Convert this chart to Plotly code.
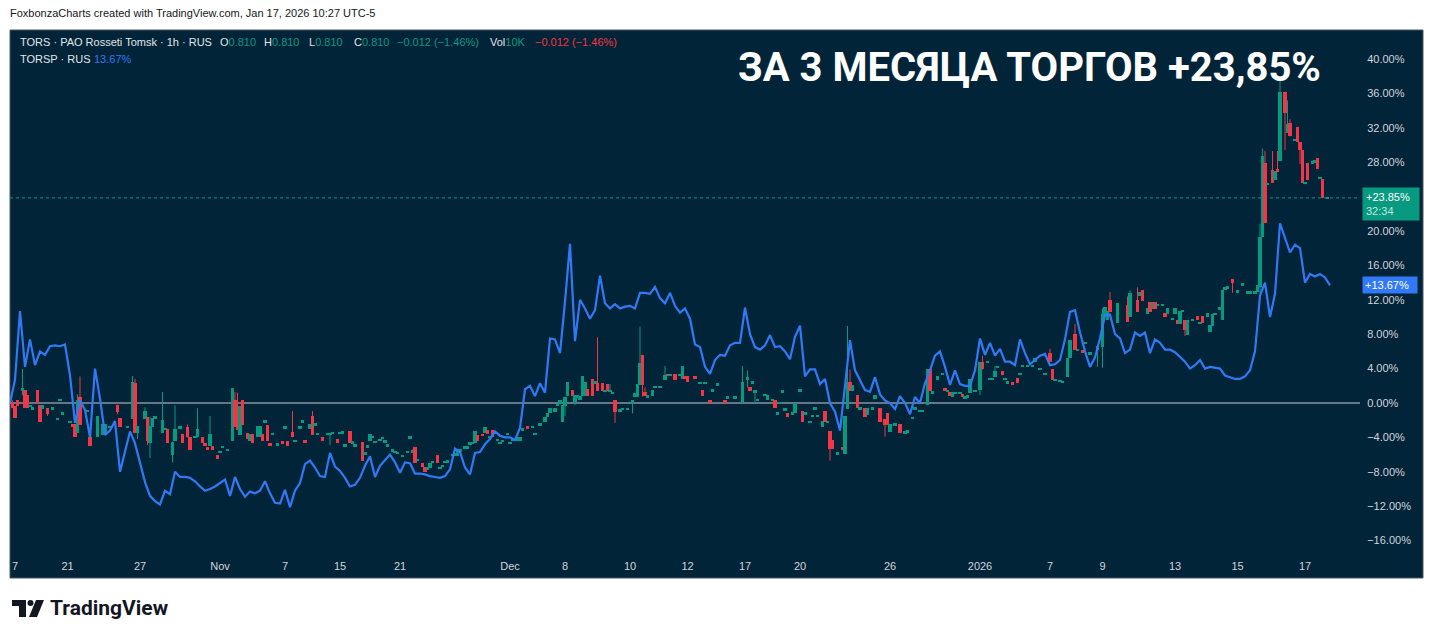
import plotly.graph_objects as go

# ---------------- data ----------------
# TORSP compare line (% change), sampled every 2 bar slots
line_vals = [
    0.0, 2.7, 10.7, 4.2, 7.4, 4.4, 6.0, 5.6, 6.6, 6.7,
    6.6, 6.8, 3.2, -2.3, 0.3, -0.8, -4.0, 4.0, 0.5, -3.7,
    -3.2, -2.1, -8.0, -5.5, -3.3, -4.7, -7.1, -9.2, -10.8, -11.4,
    -11.8, -10.2, -10.6, -8.0, -8.6, -8.6, -8.7, -9.1, -9.7, -10.2,
    -10.0, -9.7, -9.3, -8.9, -10.8, -8.6, -10.0, -10.9, -10.3, -10.5,
    -10.2, -9.1, -10.5, -11.6, -11.7, -10.1, -12.1, -10.2, -9.3, -7.1,
    -6.7, -7.5, -8.5, -8.6, -5.8, -7.4, -7.9, -8.7, -9.7, -9.5,
    -8.7, -7.3, -6.2, -8.6, -7.3, -6.6, -6.0, -6.9, -8.1, -6.9,
    -7.0, -8.2, -8.2, -8.3, -8.5, -8.6, -8.7, -8.5, -7.7, -5.3,
    -5.7, -7.5, -8.3, -5.8, -5.7, -4.8, -4.2, -3.3, -3.8, -4.0,
    -4.0, -4.3, -2.9, 1.6, 2.0, 0.8, 2.3, 1.2, 7.5, 7.4,
    5.8, 11.8, 18.5, 7.2, 12.0, 11.0, 9.8, 10.8, 14.8, 11.6,
    11.0, 11.5, 11.0, 11.2, 11.3, 11.0, 12.8, 12.8, 12.7, 13.5,
    12.2, 11.6, 12.8, 11.3, 10.5, 11.0, 9.8, 6.8, 6.5, 4.2,
    3.4, 5.0, 5.6, 5.5, 6.7, 7.0, 7.0, 11.1, 8.0, 6.5,
    6.2, 6.7, 7.9, 6.5, 6.6, 6.0, 5.1, 7.7, 9.0, 3.1,
    3.9, 3.9, 2.2, 2.8, 0.0, -1.0, -3.2, 2.0, 7.3, 3.8,
    2.7, 1.5, 1.3, 3.0, 1.0, 0.3, 0.0, -0.7, 0.8, 0.0,
    -1.3, 0.7, 0.0, 2.3, 3.8, 5.5, 6.0, 4.2, 2.1, 3.8,
    2.2, 2.0, 2.0, 3.8, 7.5, 5.6, 7.0, 5.5, 6.3, 4.8,
    4.8, 4.4, 7.4, 5.8, 4.5, 5.0, 5.5, 5.7, 4.4, 4.5,
    5.0, 7.4, 10.6, 10.8, 8.2, 6.0, 4.2, 5.3, 7.5, 10.2,
    10.3, 8.0, 7.5, 5.8, 6.2, 8.2, 7.8, 8.2, 5.8, 7.4,
    7.0, 6.2, 6.2, 5.9, 5.3, 4.8, 4.0, 4.4, 5.0, 4.0,
    4.2, 4.1, 4.0, 3.2, 3.0, 2.8, 2.8, 3.1, 3.8, 6.0,
    12.5, 14.0, 10.0, 12.7, 20.9, 19.2, 17.5, 18.4, 18.0, 14.0,
    15.0, 14.7, 15.0, 14.6, 13.67,
]
LINE_STEP = 2  # one line sample every 2 bar slots

# TORS candles (% change): bar slot, open, close
candle_slot = [
    1, 2, 3, 5, 6, 7, 8, 9, 11, 12, 13, 15, 17, 19, 20, 21, 24, 25, 26, 27,
    28, 31, 32, 35, 37, 38, 40, 43, 44, 47, 49, 50, 51, 54, 55, 56, 57, 58, 61, 62,
    63, 65, 66, 68, 69, 71, 72, 74, 75, 77, 78, 79, 80, 81, 83, 84, 85, 87, 89, 90,
    91, 92, 93, 95, 96, 97, 99, 100, 101, 102, 103, 104, 105, 107, 109, 110, 111, 113, 114, 116,
    117, 118, 120, 121, 122, 123, 125, 127, 128, 129, 131, 132,
    133, 134, 136, 137, 138, 141, 142, 143, 144, 145, 146, 148, 149, 150, 151, 153, 154, 155, 157, 159,
    160, 161, 162, 163, 165, 166, 167, 168, 169, 171, 172, 173, 174, 175, 177, 178, 179, 180, 182, 183,
    184, 185, 186, 187, 189, 190, 191, 192, 193, 195, 196, 197, 199, 200, 201, 203, 204, 205, 207, 209,
    210, 212, 214, 215, 216, 218, 219, 220, 221, 222, 223, 225, 226, 227, 228, 229, 230, 231, 233, 234,
    235, 237, 238, 239, 240, 241, 242, 244, 245, 247, 249, 250, 251, 252, 253, 254, 255, 257, 258, 260,
    262, 263, 264, 266, 268,
    269, 270, 271, 274, 276, 277, 278, 280, 281, 283, 286, 287, 290, 293, 295, 296, 297, 298, 299, 302,
    303, 305, 306, 307, 308, 309, 310, 311, 313, 314, 316, 317, 318, 320, 321, 322, 323, 325, 326, 327,
    328, 329, 331, 333, 334, 335, 336, 337, 339, 340, 342, 343, 345, 346, 348, 350, 351, 352, 354,
    356, 358, 359, 361, 362, 364, 365, 367, 368, 369, 371, 373, 374, 375, 376, 377, 378, 380, 381, 382,
    383, 384, 386, 388, 389, 391, 392, 393, 394, 395, 397, 398, 399, 401, 403, 404, 405, 407, 409, 410,
    412, 414, 416, 417, 418, 420, 421, 423, 424, 426, 427, 429, 430, 432, 435, 437, 438, 439, 440, 443,
    447, 448, 451, 452, 453, 455, 456, 457, 458, 459, 461, 462, 463, 465, 466, 467, 468, 469, 470, 471,
    473, 475, 476, 477, 479, 480, 481, 482, 484, 485, 486, 487, 489, 491, 493, 495, 496, 498, 499, 500,
    501, 502, 503, 505, 506, 507, 508, 510, 511, 512, 514, 515, 516, 517, 518, 519, 521, 522, 523, 524,
    525, 527,
]
candle_open = [
    0.0, -0.4, 0.35, 1.4, 1.5, 0.9, -0.35, -0.6, 1.5, -0.2, -0.7, -0.6, -0.6, -1.8, 0.35, -1.2, -2.2, -2.45, -2.45, -3.45,
    0.66, -0.93, -3.9, -4.0, -3.7, -3.5, -2.75, -0.2, -1.8, -2.75, -1.86, 2.3, -3.45, -1.86, -1.66, -4.6, -2.75, -1.66, -3.45, -3.0,
    -3.06, -6.1, -4.4, -2.8, -3.6, -2.8, -3.9, -3.9, -4.0, -3.9, -4.6, -5.1, -5.0, -5.0, -6.0, -5.7, -5.1, -5.4, -4.4, 0.35,
    -0.6, -3.7, 0.35, -3.45, -4.4, -3.6, -4.0, -4.0, -3.6, -2.1, -2.5, -4.6, -3.6, -4.8, -4.4, -2.8, -4.4, -3.4, -4.4, -2.8,
    -2.1, -4.3, -3.06, -1.5, -2.45, -3.6, -3.9, -3.6, -3.6, -3.45, -4.2, -3.45,
    -3.4, -4.9, -3.3, -4.55, -4.9, -4.5, -5.85, -5.2, -4.4, -3.95, -4.5, -4.3, -4.05, -4.7, -4.9, -5.5, -5.7, -5.8, -6.1, -5.7,
    -4.0, -5.6, -5.15, -6.6, -7.0, -7.4, -7.6, -7.5, -6.8, -6.05, -7.5, -7.3, -7.0, -6.75, -6.05, -6.05, -6.2, -5.5, -5.15, -5.15,
    -4.7, -4.6, -4.6, -3.7, -3.6, -3.5, -3.1, -3.95, -3.1, -4.3, -4.6, -4.4, -3.6, -4.6, -4.2, -4.4, -4.4, -3.06, -2.7, -2.75,
    -3.6, -2.45, -2.2, -1.6, -1.13, -1.0, -0.23, -0.1, -2.2, -0.35, 0.8, 1.5, 0.15, 0.8, 0.4, 0.8, 0.8, 1.6, 2.76, 2.4,
    2.3, 2.3, 1.43, 2.2, 1.43, 1.2, 0.35, -1.0, -0.65, -0.65, 0.0, 0.66, 0.66, 2.1, 5.6, 1.3, 0.8, 0.85, 1.9, 1.9,
    2.7, 3.4, 3.3, 3.4, 3.3,
    2.76, 3.14, 3.14, 3.14, 2.36, 1.5, 2.36, 0.35, 1.5, 2.2, 0.35, 0.66, 0.66, 0.0, 2.9, 1.9, 2.4, 1.2, 0.35, 0.93,
    0.35, 0.35, 0.35, -1.2, 0.04, 1.2, -0.73, -1.2, -1.2, -1.2, 1.5, -0.93, -1.2, -2.2, -1.5, -0.6, -1.5, -2.75, -0.93, -2.2,
    -3.3, -4.3, -5.85, -5.15, -5.9, -0.7, 2.4, 1.43, 0.93, -0.6, -0.6, -1.4, -0.6, 0.5, -0.6, -1.9, -1.2, -3.4, -2.45,
    -2.45, -3.4, -3.45, -1.7, -0.6, -0.93, -0.93, -0.23, 3.9, 1.24, 2.7, 3.4, 1.8, 1.43, 1.3, 0.66, 1.2, 1.2, 1.0, 0.66,
    0.8, 1.2, 1.4, 1.5, 4.8, 4.8, 2.8, 2.8, 3.06, 4.2, 3.7, 2.8, 2.4, 2.4, 2.96, 3.4, 4.3, 4.3, 4.3, 4.8,
    4.0, 3.4, 5.85, 3.9, 2.7, 2.6, 2.5, 3.06, 5.2, 8.0, 6.2, 6.2, 7.0, 5.8, 6.2, 6.5, 10.0, 9.65, 12.0, 9.3,
    11.4, 10.0, 12.0, 12.4, 13.1, 10.4, 11.7, 10.9, 11.7, 11.4, 11.4, 10.5, 10.4, 9.8, 10.4, 9.6, 9.2, 10.7, 9.65, 7.9,
    9.7, 10.1, 9.3, 10.1, 10.0, 8.2, 8.9, 10.4, 11.0, 9.65, 13.1, 13.45, 14.4, 13.0, 13.8, 12.9, 12.9, 12.8, 12.9, 13.5,
    19.3, 27.9, 25.5, 27.1, 25.9, 27.2, 28.1, 36.2, 31.4, 32.5, 30.6, 32.1, 30.3, 29.4, 25.6, 27.9, 27.9, 28.1, 28.45, 26.2,
    26.0, 23.85,
]
candle_close = [
    -0.6, -1.8, -0.35, 1.8, -0.6, -0.6, -0.35, -0.6, 0.0, -2.2, -0.2, -1.3, -0.6, -1.8, 0.35, -1.2, -2.2, -2.75, -4.0, 0.35,
    -2.56, -0.93, -5.0, -1.5, -2.4, -2.4, -2.75, -1.0, -2.75, -2.75, 2.48, -3.45, -2.7, -0.93, -4.4, -2.7, -1.8, -1.66, -2.0, -3.0,
    -4.6, -4.5, -3.06, -2.8, -4.6, -4.0, -5.5, -3.9, -3.06, -4.6, -5.0, -5.5, -3.6, -5.5, -6.5, -5.7, -5.1, -5.4, 1.8, -2.75,
    -3.1, -0.4, -2.5, -4.2, -3.6, -4.6, -2.7, -2.7, -4.4, -2.1, -4.4, -5.0, -3.6, -4.8, -4.8, -2.8, -5.0, -4.0, -4.4, -2.8,
    -2.1, -4.6, -2.45, -3.7, -2.45, -3.6, -4.4, -3.6, -3.6, -3.45, -4.6, -3.45,
    -3.4, -4.9, -4.6, -4.55, -4.9, -6.8, -5.85, -4.9, -3.6, -3.95, -4.5, -4.3, -4.05, -4.3, -4.9, -5.5, -5.7, -5.8, -6.1, -5.7,
    -4.0, -5.6, -7.0, -6.6, -7.4, -8.0, -7.6, -7.0, -6.8, -7.0, -7.5, -7.3, -6.75, -6.75, -6.05, -5.85, -5.3, -5.5, -5.15, -5.15,
    -4.7, -4.6, -3.3, -4.4, -3.8, -2.75, -3.6, -3.95, -4.0, -4.3, -4.6, -4.4, -3.6, -4.6, -4.2, -4.0, -4.0, -3.06, -3.06, -2.75,
    -3.6, -2.45, -1.6, -1.13, -0.6, -0.6, -0.23, 0.35, -0.2, 0.73, 2.4, 0.8, 0.93, 0.8, 0.8, 3.14, 2.5, 0.8, 0.8, 2.4,
    1.43, 1.43, 1.43, 1.43, 1.43, 1.2, -1.0, -0.7, -0.65, -0.65, 0.35, 1.2, 2.2, 4.6, 2.1, 0.8, 0.8, 1.5, 1.9, 1.9,
    3.2, 3.14, 3.3, 2.7, 3.3,
    4.3, 2.76, 2.4, 2.76, 2.36, 0.85, 2.36, 0.0, 1.5, 2.2, 0.0, 0.66, 0.66, 2.4, 2.9, 1.43, 2.4, 1.5, 0.35, 0.93,
    0.93, 0.35, -0.6, -1.2, 0.04, 1.5, -0.73, -1.6, -1.2, 0.04, 1.5, -2.2, -1.2, -2.2, -1.5, -0.6, -1.5, -2.1, -2.2, -2.2,
    -5.3, -5.3, -5.85, -5.5, -1.5, 2.4, 1.43, 2.1, -0.6, -0.6, -1.6, -0.6, -0.6, 0.93, -2.2, -2.5, -2.5, -2.45, -2.45,
    -3.45, -3.4, -3.1, -1.7, -0.6, -0.93, -0.93, 3.9, 1.4, 1.24, 3.14, 3.4, 1.43, 1.43, 0.8, 1.3, 1.2, 1.2, 0.66, 0.66,
    0.8, 2.76, 1.4, 4.8, 3.9, 4.8, 2.8, 2.8, 3.7, 4.2, 3.26, 2.8, 2.4, 2.1, 2.3, 3.4, 4.3, 4.3, 4.3, 5.2,
    4.0, 3.4, 4.8, 2.7, 2.7, 2.6, 2.5, 5.2, 7.3, 6.2, 6.2, 5.8, 7.0, 5.8, 6.6, 10.3, 11.2, 10.7, 10.6, 11.6,
    9.45, 12.8, 10.6, 12.9, 11.9, 11.0, 10.6, 11.7, 10.9, 11.4, 11.4, 10.0, 11.0, 9.8, 11.0, 9.15, 10.7, 10.7, 8.5, 9.7,
    9.7, 9.65, 9.3, 9.3, 10.5, 9.1, 10.4, 10.4, 11.0, 13.1, 13.45, 13.45, 14.0, 13.0, 13.8, 12.9, 12.9, 13.0, 13.7, 19.3,
    28.7, 20.9, 25.5, 25.6, 27.0, 26.9, 36.2, 33.7, 32.4, 31.0, 30.6, 30.3, 29.4, 25.6, 25.6, 25.9, 28.1, 28.1, 27.2, 26.2,
    23.85, 23.85,
]
# candles whose high/low shadows reach beyond the body
wick_slot = [1, 5, 15, 27, 28, 43, 49, 50, 51, 54, 55, 56, 61, 65, 66, 71, 75, 80, 90, 91,
             113, 121, 128, 161, 222, 226, 235, 240, 242, 249, 252, 253, 254, 262, 293, 295, 298, 328, 335, 336,
             350, 388, 389, 394, 416, 426, 435, 437, 440, 447, 448, 451, 470, 489, 500, 501, 502, 505, 507, 508,
             510, 511, 512, 516]
wick_high = [0.3, 3.95, -0.6, 1.0, 3.1, -0.2, 3.14, 2.8, -2.7, -0.5, -1.66, -1.6, 1.28, -4.5, -0.27, -2.5, -0.6, -1.5, 1.3, 1.2,
             -0.93, -0.93, -3.6, -5.4, 0.73, 0.93, 7.64, 2.2, 0.35, 0.35, 8.9, 5.6, 1.8, 4.3, 4.3, 3.8, 1.5, -3.3, 8.95, 3.9,
             -1.9, 4.8, 5.5, 4.3, 6.3, 9.2, 6.6, 11.0, 12.9, 12.4, 13.1, 13.45, 9.65, 14.4, 20.8, 29.6, 29.3, 29.3, 29.3, 37.6,
             36.2, 35.2, 33.0, 30.3]
wick_low = [-0.6, 0.9, -1.5, -3.45, -2.56, -1.3, -1.86, -3.45, -4.2, -1.86, -4.9, -6.4, -3.45, -6.9, -4.4, -4.0, -4.0, -5.0, -2.75, -3.1,
            -4.0, -3.7, -4.9, -5.8, -1.5, -0.2, 1.43, 1.43, -2.3, -1.2, 2.1, 0.73, 0.8, 2.7, 0.0, 1.8, -0.1, -6.7, -0.7, 1.43,
            -3.9, 0.93, 3.9, 3.06, 4.8, 6.2, 4.2, 4.1, 10.6, 9.45, 10.0, 10.6, 7.8, 12.8, 12.8, 19.3, 20.9, 25.6, 26.9, 28.1,
            29.4, 31.4, 31.0, 27.8]

# time axis labels (bar slot -> label)
tick_slots = [2, 23, 52, 84, 110, 132, 156, 200, 222, 248, 271, 294, 316, 352, 388, 416, 437, 466, 491, 518]
tick_text = ["7", "21", "27", "Nov", "7", "15", "21", "Dec", "8", "10", "12", "17", "20", "26", "2026",
             "7", "9", "13", "15", "17"]
y_ticks = [40, 36, 32, 28, 20, 16, 12, 8, 4, 0, -4, -8, -12, -16]

last_close = 23.85
last_compare = 13.67
countdown = "32:34"

# ---------------- style ----------------
BG = "#012438"
GREEN = "#089981"
RED = "#f23645"
BLUE = "#3179f5"
AXIS_TXT = "#d1d4dc"
HDR_TXT = "#e1e4ea"
FONT = "Liberation Sans, Arial, sans-serif"

W, H = 1433, 638
ML, MR, MT, MB = 10, 73, 30, 85
PW, PH = W - ML - MR, H - MT - MB


def px(x):
    return (x - ML) / PW


def py(y):
    return (H - MB - y) / PH


# ---------------- traces ----------------
is_up = [c >= o for o, c in zip(candle_open, candle_close)]
body_base, body_len = [], []
MIN_BODY = 0.22
for o, c in zip(candle_open, candle_close):
    if abs(c - o) < MIN_BODY:
        body_base.append((o + c) / 2 - MIN_BODY / 2)
        body_len.append(MIN_BODY)
    else:
        body_base.append(min(o, c))
        body_len.append(abs(c - o))
body_col = [GREEN if u else RED for u in is_up]

up_by_slot = dict(zip(candle_slot, is_up))
wx = {True: [], False: []}
wy = {True: [], False: []}
for s, hi, lo in zip(wick_slot, wick_high, wick_low):
    k = up_by_slot.get(s, True)
    wx[k] += [s, s, None]
    wy[k] += [lo, hi, None]

fig = go.Figure()
for k, col in ((True, GREEN), (False, RED)):
    fig.add_trace(go.Scatter(x=wx[k], y=wy[k], mode="lines", line=dict(color=col, width=1),
                             hoverinfo="skip", showlegend=False))
fig.add_trace(go.Bar(x=candle_slot, y=body_len, base=body_base, width=1.4,
                     marker=dict(color=body_col, line=dict(width=0)),
                     hoverinfo="skip", showlegend=False))
line_slots = [i * LINE_STEP for i in range(len(line_vals))]
fig.add_trace(go.Scatter(x=line_slots, y=line_vals, mode="lines",
                         line=dict(color=BLUE, width=2.2), hoverinfo="skip", showlegend=False))


def pct(v):
    s = f"{abs(v):.2f}%"
    return ("\u2212" + s) if v < 0 else s


# ---------------- shapes ----------------
shapes = [
    dict(type="rect", xref="paper", yref="paper", x0=px(10), x1=px(1423), y0=py(578), y1=py(30),
         fillcolor=BG, line=dict(color="#4a5563", width=1), layer="below"),
    dict(type="line", xref="paper", yref="y", x0=0, x1=1, y0=0, y1=0,
         line=dict(color="#c9ccd1", width=1), layer="below"),
    dict(type="line", xref="paper", yref="y", x0=0, x1=1, y0=last_close, y1=last_close,
         line=dict(color=GREEN, width=1, dash="dot"), layer="below"),
    # TradingView logo mark
    dict(type="rect", xref="paper", yref="paper", x0=px(12), x1=px(26), y0=py(606), y1=py(600),
         fillcolor="#131722", line=dict(width=0)),
    dict(type="rect", xref="paper", yref="paper", x0=px(19), x1=px(26), y0=py(617), y1=py(600),
         fillcolor="#131722", line=dict(width=0)),
    dict(type="circle", xref="paper", yref="paper", x0=px(27.5), x1=px(33.5), y0=py(606), y1=py(600),
         fillcolor="#131722", line=dict(width=0)),
    dict(type="path", xref="paper", yref="paper",
         path=f"M {px(36)},{py(600)} L {px(44)},{py(600)} L {px(37)},{py(617)} L {px(29)},{py(617)} Z",
         fillcolor="#131722", line=dict(width=0)),
]

# ---------------- annotations ----------------
ann = []


def txt(x, y, text, size=11, color=HDR_TXT, anchor="left", family=FONT, **kw):
    ann.append(dict(xref="paper", yref="paper", x=px(x), y=py(y), text=text, showarrow=False,
                    xanchor=anchor, yanchor="middle", font=dict(size=size, color=color, family=family), **kw))


txt(8, 13, "FoxbonzaCharts created with TradingView.com, Jan 17, 2026 10:27 UTC-5", color="#131722")
g = lambda s: f"<span style='color:{GREEN}'>{s}</span>"
txt(18, 42, "TORS \u00b7 PAO Rosseti Tomsk \u00b7 1h \u00b7 RUS")
txt(218, 42, "O" + g("0.810"))
txt(262, 42, "H" + g("0.810"))
txt(307, 42, "L" + g("0.810"))
txt(352, 42, "C" + g("0.810"))
txt(395, 42, g("\u22120.012 (\u22121.46%)"))
txt(488, 42, "Vol" + g("10K"))
txt(533, 42, f"<span style='color:{RED}'>\u22120.012 (\u22121.46%)</span>")
txt(18, 59, "TORSP \u00b7 RUS")
txt(92, 59, f"<span style='color:{BLUE}'>{last_compare:.2f}%</span>")

txt(1323, 67, "ЗА 3 МЕСЯЦА ТОРГОВ +23,85%", size=40, color="white", anchor="right",
    family="Roboto, sans-serif")
ann[-1]["font"]["weight"] = 700

txt(48, 608, "TradingView", size=21, color="#131722", family="Roboto, sans-serif")
ann[-1]["font"]["weight"] = 700

ann.append(dict(xref="paper", yref="y", x=px(1362), y=last_close, yshift=-6,
                text=f"+{last_close:.2f}%<br><span style='color:#bfe9df'>{countdown}</span>",
                showarrow=False, xanchor="left", yanchor="middle", align="left",
                bgcolor=GREEN, borderpad=3, width=50,
                font=dict(size=11, color="white", family=FONT)))
ann.append(dict(xref="paper", yref="y", x=px(1362), y=last_compare,
                text=f"+{last_compare:.2f}%", showarrow=False, xanchor="left", yanchor="middle",
                align="left", bgcolor=BLUE, borderpad=2, width=50,
                font=dict(size=11, color="white", family=FONT)))

fig.update_layout(
    width=W, height=H, autosize=False,
    margin=dict(l=ML, r=MR, t=MT, b=MB),
    paper_bgcolor="white", plot_bgcolor=BG,
    showlegend=False, bargap=0,
    xaxis=dict(range=[0, PW / 2.5], tickmode="array", tickvals=tick_slots, ticktext=tick_text,
               showgrid=False, zeroline=False, showline=False, ticks="outside", ticklen=3,
               tickcolor="rgba(0,0,0,0)", tickfont=dict(size=11, color=AXIS_TXT, family=FONT),
               fixedrange=True),
    yaxis=dict(side="right", range=[-17.44, 43.37], tickmode="array", tickvals=y_ticks,
               ticktext=[pct(v) for v in y_ticks], showgrid=False, zeroline=False, showline=False,
               ticks="outside", ticklen=4, tickcolor="rgba(0,0,0,0)",
               tickfont=dict(size=11, color=AXIS_TXT, family=FONT), fixedrange=True),
    shapes=shapes, annotations=ann,
)

fig.write_html("out.html", config={"displayModeBar": False},
               post_script="document.body.style.margin='0';document.body.style.overflow='hidden';")
